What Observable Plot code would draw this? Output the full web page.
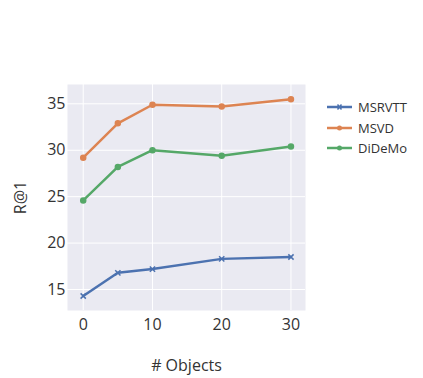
<!DOCTYPE html>
<html>
<head>
<meta charset="utf-8">
<script src="https://cdn.jsdelivr.net/npm/d3@7"></script>
<script src="https://cdn.jsdelivr.net/npm/@observablehq/plot@0.6"></script>
<style>
  body { margin: 0; background: #fff; }
  #wrap { position: relative; width: 423px; height: 378px; font-family: "Open Sans", sans-serif; }
  #legend { position: absolute; left: 327px; top: 97px; font-size: 13px; color: #333; }
  .item { display: flex; align-items: center; height: 20.5px; }
  .item svg { margin-right: 5px; }
</style>
</head>
<body>
<div id="wrap"><div id="legend"></div></div>
<script>
const objects = [0, 5, 10, 20, 30];
const seriesNames = ["MSRVTT", "MSVD", "DiDeMo"];
const msrvtt = [14.3, 16.8, 17.2, 18.3, 18.5];
const msvd = [29.2, 32.9, 34.9, 34.7, 35.5];
const didemo = [24.6, 28.2, 30.0, 29.4, 30.4];
const colors = ["#4C72B0", "#DD8452", "#55A868"];
const symbols = ["times", "circle", "circle"];
const xTicks = [0, 10, 20, 30];
const yTicks = [15, 20, 25, 30, 35];

const valuesBySeries = [msrvtt, msvd, didemo];
const data = [];
seriesNames.forEach((s, i) => objects.forEach((x, j) => data.push({series: s, x, y: valuesBySeries[i][j]})));

const chart = Plot.plot({
  width: 423,
  height: 378,
  marginLeft: 67,
  marginRight: 118,
  marginTop: 84,
  marginBottom: 68,
  style: {fontFamily: "Open Sans", fontSize: "16px", color: "#333", background: "white"},
  x: {domain: [-2.27, 32.1]},
  y: {domain: [12.74, 37.08]},
  color: {domain: seriesNames, range: colors},
  symbol: {domain: seriesNames, range: symbols},
  marks: [
    Plot.frame({fill: "#EAEAF2", stroke: null}),
    Plot.gridX(xTicks, {stroke: "white", strokeOpacity: 1, strokeWidth: 1}),
    Plot.gridY(yTicks, {stroke: "white", strokeOpacity: 1, strokeWidth: 1}),
    Plot.axisX({ticks: xTicks, tickSize: 0, tickPadding: 8, label: "# Objects", labelArrow: "none", labelAnchor: "center", labelOffset: 60, fontSize: 16}),
    Plot.axisY({ticks: yTicks, tickSize: 0, tickPadding: 2, label: "R@1", labelArrow: "none", labelAnchor: "center", labelOffset: 53, fontSize: 16}),
    Plot.line(data, {x: "x", y: "y", z: "series", stroke: "series", strokeWidth: 2.5}),
    Plot.dot(data, {x: "x", y: "y", fill: "series", stroke: "series", symbol: "series", r: 2.5, strokeWidth: 1.5})
  ]
});
document.getElementById("wrap").prepend(chart);

const legend = document.getElementById("legend");
seriesNames.forEach((s, i) => {
  const item = document.createElement("div");
  item.className = "item";
  const ns = "http://www.w3.org/2000/svg";
  const svg = document.createElementNS(ns, "svg");
  svg.setAttribute("width", 26); svg.setAttribute("height", 10);
  const line = document.createElementNS(ns, "line");
  line.setAttribute("x1", 0); line.setAttribute("x2", 25); line.setAttribute("y1", 5); line.setAttribute("y2", 5);
  line.setAttribute("stroke", colors[i]); line.setAttribute("stroke-width", 2.5);
  svg.appendChild(line);
  if (symbols[i] === "times") {
    const p = document.createElementNS(ns, "path");
    p.setAttribute("d", "M10.5,2.5L14.5,7.5M14.5,2.5L10.5,7.5");
    p.setAttribute("stroke", colors[i]); p.setAttribute("stroke-width", 1.5);
    svg.appendChild(p);
  } else {
    const c = document.createElementNS(ns, "circle");
    c.setAttribute("cx", 12.5); c.setAttribute("cy", 5); c.setAttribute("r", 2.5);
    c.setAttribute("fill", colors[i]);
    svg.appendChild(c);
  }
  item.appendChild(svg);
  const t = document.createElement("span");
  t.textContent = s;
  item.appendChild(t);
  legend.appendChild(item);
});
</script>
</body>
</html>
